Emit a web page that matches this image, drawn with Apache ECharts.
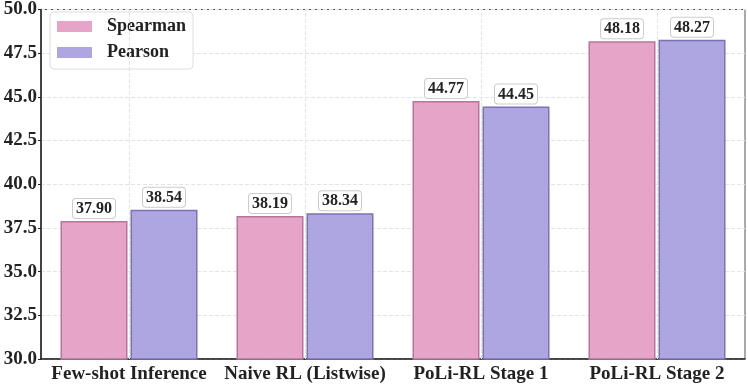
<!DOCTYPE html>
<html><head><meta charset="utf-8">
<script src="https://cdn.jsdelivr.net/npm/echarts@6/dist/echarts.min.js"></script>
<style>html,body{margin:0;padding:0;background:#fff}#c{width:748px;height:387px}</style>
</head><body><div id="c"></div>
<script>
const categories = ['Few-shot Inference', 'Naive RL (Listwise)', 'PoLi-RL Stage 1', 'PoLi-RL Stage 2'];
const spearman = [37.90, 38.19, 44.77, 48.18];
const pearson = [38.54, 38.34, 44.45, 48.27];
const yTicks = [30.0, 32.5, 35.0, 37.5, 40.0, 42.5, 45.0, 47.5, 50.0];

const FONT = '"Liberation Serif", "Times New Roman", serif';
const chart = echarts.init(document.getElementById('c'));
const lbl = {
  show: true, position: 'top', distance: 3,
  formatter: p => p.value.toFixed(2),
  fontFamily: FONT, fontWeight: 'bold', fontSize: 16, color: '#222',
  backgroundColor: '#fff', borderColor: '#ccc', borderWidth: 1, borderRadius: 3,
  padding: [2, 3, 1, 3]
};
chart.setOption({
  animation: false,
  grid: { left: 41, right: 3, top: 7, bottom: 28, show: true, borderColor: '#555', borderWidth: 1 },
  legend: {
    left: 50, top: 12, orient: 'vertical', itemWidth: 35, itemHeight: 11, itemGap: 7,
    padding: [5, 7, 7, 7], icon: 'rect',
    borderColor: '#ddd', borderWidth: 1, borderRadius: 4, backgroundColor: '#fff',
    textStyle: { fontFamily: FONT, fontWeight: 'bold', fontSize: 18, lineHeight: 19, color: '#222', padding: [0, 0, 0, 10] },
    data: [{ name: 'Spearman', itemStyle: { borderWidth: 0 } }, { name: 'Pearson', itemStyle: { borderWidth: 0 } }]
  },
  xAxis: {
    type: 'category', data: categories,
    axisLine: { lineStyle: { color: '#222', width: 1.5 } },
    axisTick: { alignWithLabel: true, lineStyle: { color: '#222' }, length: 4 },
    axisLabel: { interval: 0, fontFamily: FONT, fontWeight: 'bold', fontSize: 19, color: '#222', margin: 6 },
    splitLine: { show: false }
  },
  yAxis: {
    type: 'value', min: 30, max: 50, interval: 2.5,
    axisLine: { show: true, lineStyle: { color: '#222', width: 1.5 } },
    axisTick: { show: true, length: 3, lineStyle: { color: '#222' } },
    axisLabel: { fontFamily: FONT, fontWeight: 'bold', fontSize: 19, color: '#222', margin: 4,
      formatter: v => v.toFixed(1) },
    splitLine: { lineStyle: { color: '#e3e3e3', type: 'dashed' } }
  },
  series: [
    {
      name: 'grid-v', type: 'line', data: [null, null, null, null], z: 0, silent: true,
      markLine: {
        silent: true, symbol: 'none', label: { show: false }, animation: false,
        lineStyle: { color: '#e3e3e3', type: 'dashed', width: 1 },
        data: categories.map(c => ({ xAxis: c }))
      }
    },
    {
      name: 'Spearman', type: 'bar', data: spearman, barWidth: 67, barGap: '4.5%',
      itemStyle: { color: '#e5a4c8', borderColor: '#b47799', borderWidth: 1.5 },
      label: lbl, z: 3
    },
    {
      name: 'Pearson', type: 'bar', data: pearson, barWidth: 67,
      itemStyle: { color: '#ada6e0', borderColor: '#7d71b3', borderWidth: 1.5 },
      label: lbl, z: 3
    }
  ]
});
</script></body></html>
